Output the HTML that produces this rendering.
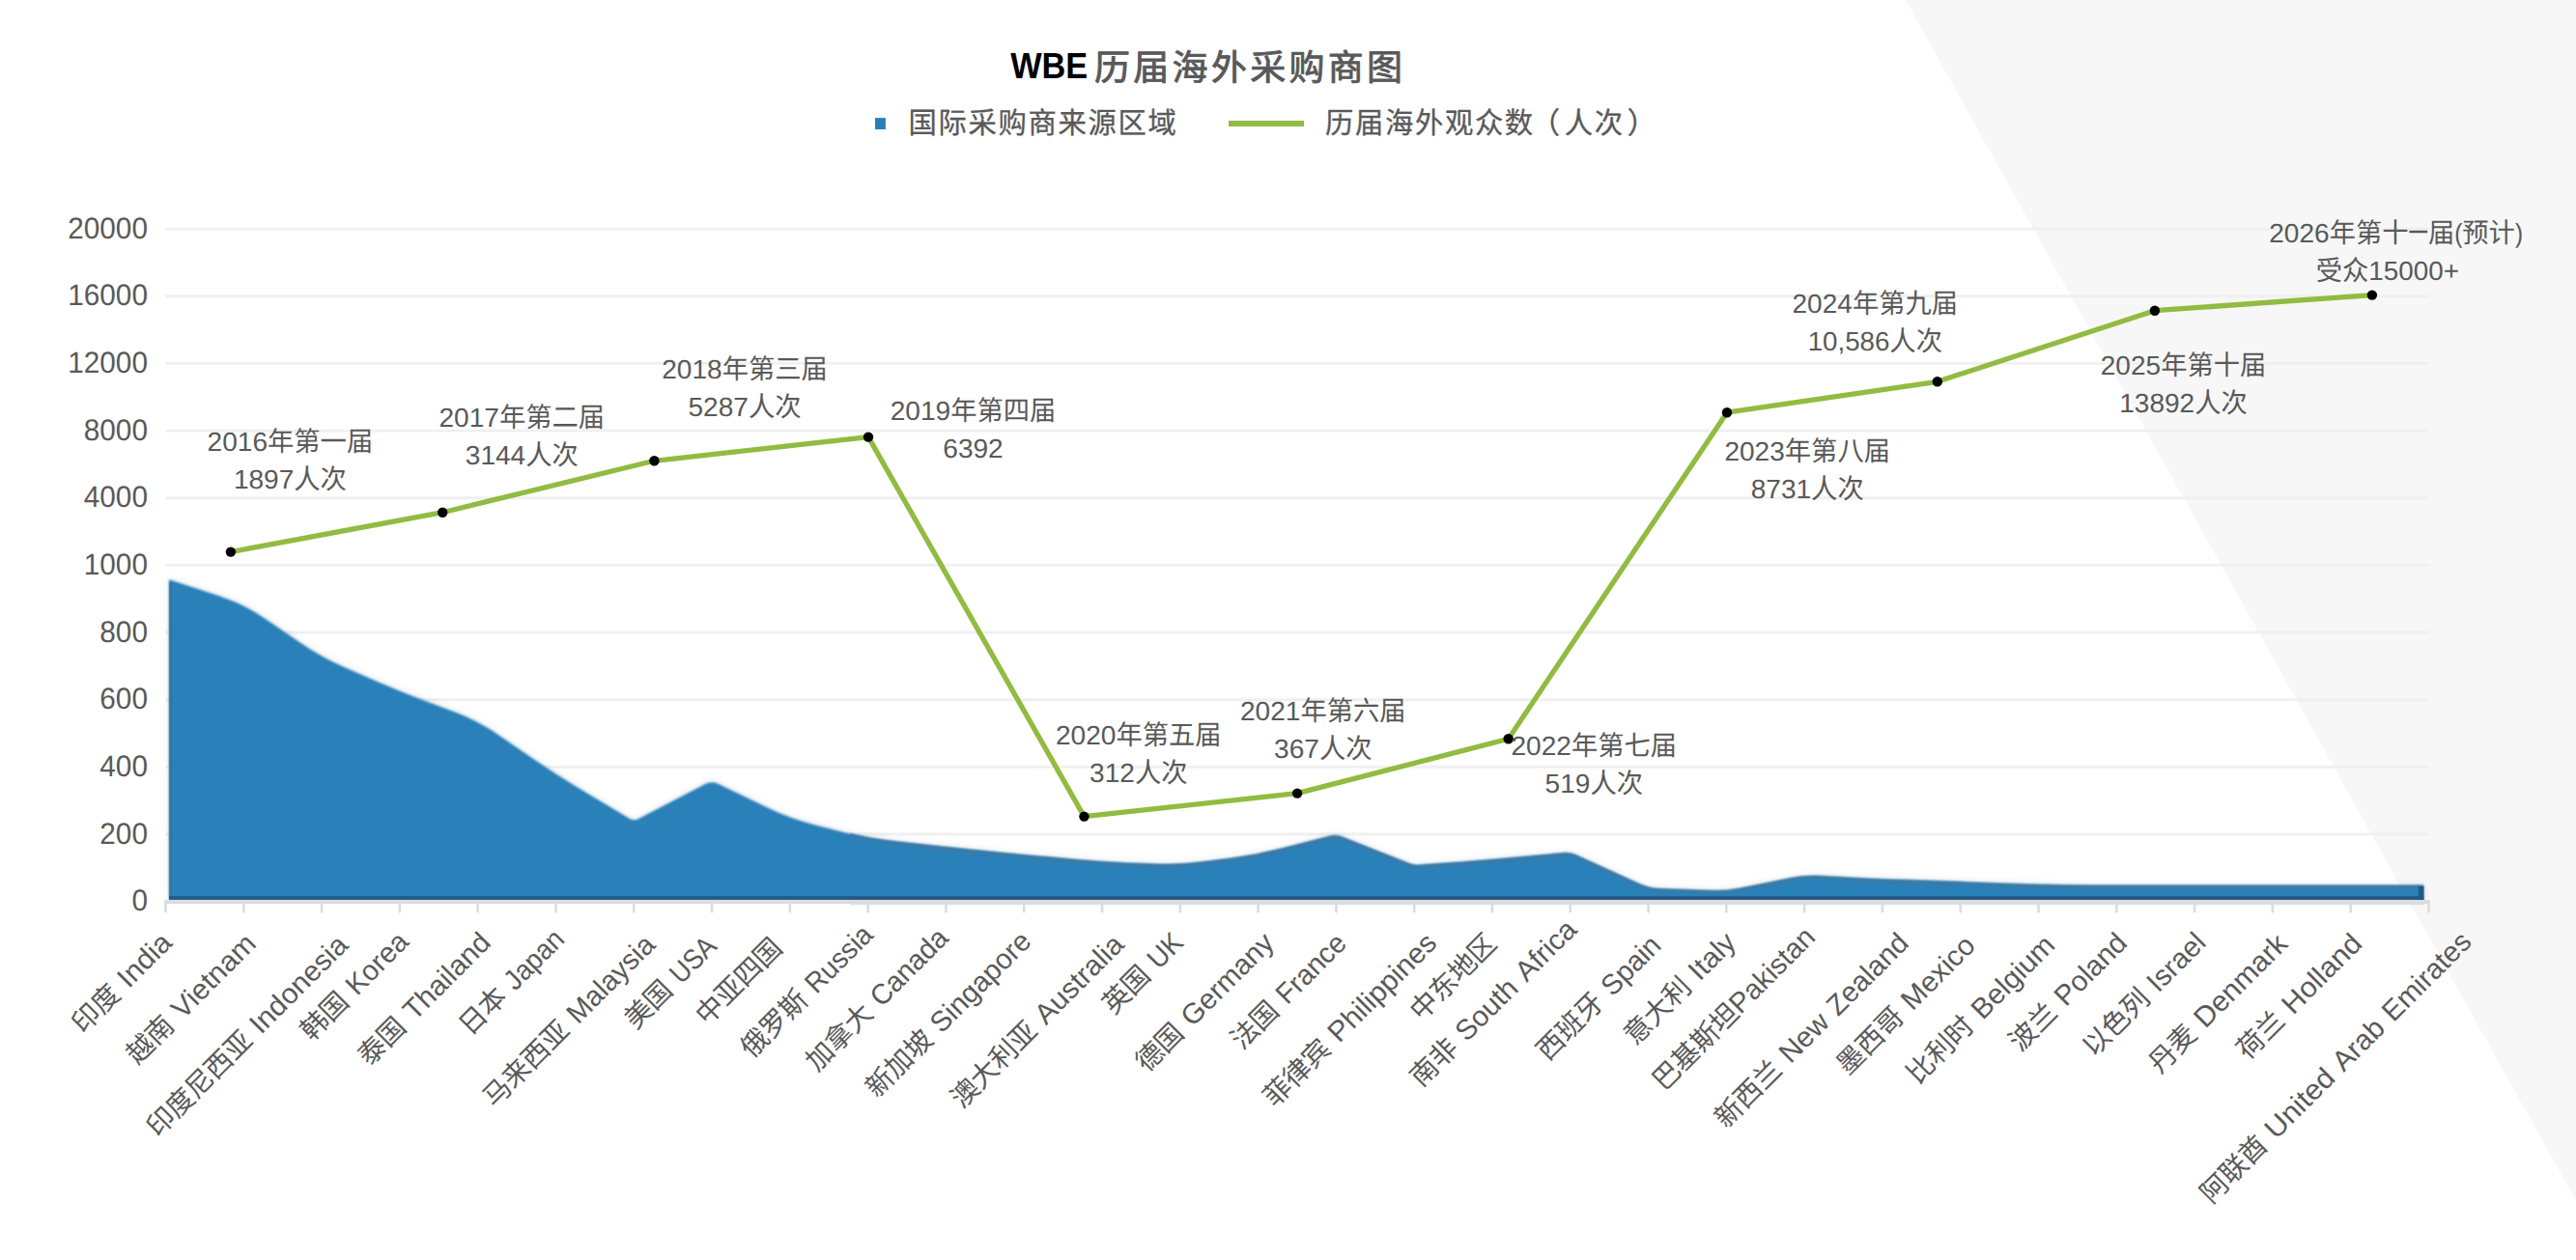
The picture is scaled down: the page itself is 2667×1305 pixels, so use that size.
<!DOCTYPE html>
<html lang="zh"><head><meta charset="utf-8"><title>WBE 历届海外采购商图</title><style>html,body{margin:0;padding:0;background:#fff}body{width:2667px;height:1305px;overflow:hidden}svg{display:block}</style></head><body>
<svg width="2667" height="1305" viewBox="0 0 2667 1305" font-family='"Liberation Sans","Noto Sans CJK SC",sans-serif' text-rendering="geometricPrecision"><defs><filter id="soft" x="-1%" y="-5%" width="102%" height="110%"><feGaussianBlur stdDeviation="0.8"/></filter><filter id="halo" x="-2%" y="-10%" width="104%" height="120%"><feGaussianBlur stdDeviation="3"/></filter></defs><rect width="2667" height="1305" fill="#fff"/>
<polygon points="1972.9,0 2667,0 2667,1243.5" fill="#f7f7f7"/>
<text transform="translate(1046.20,81.10)" font-size="36.40" fill="#000" font-weight="bold"><tspan x="0.00" y="0" font-size="37.77" textLength="80.03" lengthAdjust="spacingAndGlyphs">WBE</tspan></text>
<text transform="translate(1133.00,83.30)" font-size="37.00" fill="#595959" stroke="#595959" stroke-width="0.90" stroke-linejoin="round"><tspan x="0.00" y="0.00" letter-spacing="3.30">历届海外采购商图</tspan></text>
<rect x="906" y="122.1" width="10.9" height="11.9" fill="#2980b9"/>
<text transform="translate(940.60,137.70) scale(1,1.0400)" font-size="29.33" fill="#595959" stroke="#595959" stroke-width="0.30" stroke-linejoin="round"><tspan x="0.00" y="0.00" letter-spacing="1.65">国际采购商来源区域</tspan></text>
<line x1="1272" y1="128" x2="1350" y2="128" stroke="#92bb41" stroke-width="6"/>
<text transform="translate(1372.00,137.70) scale(1,1.0400)" font-size="29.33" fill="#595959" stroke="#595959" stroke-width="0.30" stroke-linejoin="round"><tspan x="0.00" y="0.00" letter-spacing="1.65">历届海外观众数</tspan><tspan x="212.36" y="0.00" textLength="30.98" lengthAdjust="spacingAndGlyphs">（</tspan><tspan x="247.84" y="0.00" letter-spacing="1.65">人次</tspan><tspan x="312.50" y="0.00" textLength="30.98" lengthAdjust="spacingAndGlyphs">）</tspan></text>
<line x1="171.5" y1="237.10" x2="2514.5" y2="237.10" stroke="#f0f0f0" stroke-width="2.9"/>
<line x1="171.5" y1="306.76" x2="2514.5" y2="306.76" stroke="#f0f0f0" stroke-width="2.9"/>
<line x1="171.5" y1="376.42" x2="2514.5" y2="376.42" stroke="#f0f0f0" stroke-width="2.9"/>
<line x1="171.5" y1="446.08" x2="2514.5" y2="446.08" stroke="#f0f0f0" stroke-width="2.9"/>
<line x1="171.5" y1="515.74" x2="2514.5" y2="515.74" stroke="#f0f0f0" stroke-width="2.9"/>
<line x1="171.5" y1="585.40" x2="2514.5" y2="585.40" stroke="#f0f0f0" stroke-width="2.9"/>
<line x1="171.5" y1="655.06" x2="2514.5" y2="655.06" stroke="#f0f0f0" stroke-width="2.9"/>
<line x1="171.5" y1="724.72" x2="2514.5" y2="724.72" stroke="#f0f0f0" stroke-width="2.9"/>
<line x1="171.5" y1="794.38" x2="2514.5" y2="794.38" stroke="#f0f0f0" stroke-width="2.9"/>
<line x1="171.5" y1="864.04" x2="2514.5" y2="864.04" stroke="#f0f0f0" stroke-width="2.9"/>
<text transform="translate(152.90,246.80)" font-size="28.90" fill="#595959"><tspan x="-82.62" y="0" font-size="31.07" textLength="82.62" lengthAdjust="spacingAndGlyphs">20000</tspan></text>
<text transform="translate(152.90,316.46)" font-size="28.90" fill="#595959"><tspan x="-82.62" y="0" font-size="31.07" textLength="82.62" lengthAdjust="spacingAndGlyphs">16000</tspan></text>
<text transform="translate(152.90,386.12)" font-size="28.90" fill="#595959"><tspan x="-82.62" y="0" font-size="31.07" textLength="82.62" lengthAdjust="spacingAndGlyphs">12000</tspan></text>
<text transform="translate(152.90,455.78)" font-size="28.90" fill="#595959"><tspan x="-66.10" y="0" font-size="31.07" textLength="66.10" lengthAdjust="spacingAndGlyphs">8000</tspan></text>
<text transform="translate(152.90,525.44)" font-size="28.90" fill="#595959"><tspan x="-66.10" y="0" font-size="31.07" textLength="66.10" lengthAdjust="spacingAndGlyphs">4000</tspan></text>
<text transform="translate(152.90,595.10)" font-size="28.90" fill="#595959"><tspan x="-66.10" y="0" font-size="31.07" textLength="66.10" lengthAdjust="spacingAndGlyphs">1000</tspan></text>
<text transform="translate(152.90,664.76)" font-size="28.90" fill="#595959"><tspan x="-49.57" y="0" font-size="31.07" textLength="49.57" lengthAdjust="spacingAndGlyphs">800</tspan></text>
<text transform="translate(152.90,734.42)" font-size="28.90" fill="#595959"><tspan x="-49.57" y="0" font-size="31.07" textLength="49.57" lengthAdjust="spacingAndGlyphs">600</tspan></text>
<text transform="translate(152.90,804.08)" font-size="28.90" fill="#595959"><tspan x="-49.57" y="0" font-size="31.07" textLength="49.57" lengthAdjust="spacingAndGlyphs">400</tspan></text>
<text transform="translate(152.90,873.74)" font-size="28.90" fill="#595959"><tspan x="-49.57" y="0" font-size="31.07" textLength="49.57" lengthAdjust="spacingAndGlyphs">200</tspan></text>
<text transform="translate(152.90,943.40)" font-size="28.90" fill="#595959"><tspan x="-16.52" y="0" font-size="31.07" textLength="16.52" lengthAdjust="spacingAndGlyphs">0</tspan></text>
<clipPath id="chalo"><rect x="150" y="560" width="2400" height="371.5"/></clipPath>
<g clip-path="url(#chalo)"><path d="M175.0,931.9 L175.0,600.3 L227.6,617.4 Q252.3,625.5 273.7,640.2 L311.7,666.3 Q333.1,681.0 356.9,691.3 L390.0,705.7 Q413.9,716.0 438.2,725.2 L470.3,737.3 Q494.7,746.5 516.1,761.2 L554.0,787.3 Q575.5,802.0 597.8,815.4 L652.0,847.9 Q656.3,850.5 660.7,848.2 L730.8,811.8 Q737.1,808.6 743.3,811.7 L794.5,836.5 Q817.8,847.8 843.0,854.2 L873.4,861.9 Q898.6,868.3 924.5,871.2 L953.6,874.5 Q979.4,877.4 1005.3,880.0 L1034.4,882.9 Q1060.2,885.5 1086.1,887.8 L1115.1,890.5 Q1141.0,892.8 1167.0,893.9 L1195.8,895.0 Q1221.8,896.1 1247.6,892.6 L1276.8,888.7 Q1302.6,885.2 1327.8,878.7 L1375.6,866.4 Q1383.4,864.4 1390.8,867.4 L1459.5,894.7 Q1464.2,896.5 1469.2,896.1 L1519.1,892.4 Q1545.0,890.4 1570.9,888.0 L1619.8,883.5 Q1625.8,883.0 1631.2,885.5 L1697.5,915.8 Q1706.6,920.0 1716.6,920.4 L1773.4,922.5 Q1787.4,923.0 1801.1,920.2 L1854.4,909.4 Q1868.2,906.6 1882.1,907.3 L1923.0,909.5 Q1948.9,910.8 1974.9,911.6 L2003.8,912.6 Q2029.7,913.4 2055.7,914.4 L2084.6,915.6 Q2110.5,916.6 2136.5,916.7 L2165.3,916.9 Q2191.3,917.0 2217.3,917.0 L2246.1,917.0 Q2272.1,917.0 2298.1,917.0 L2326.9,917.0 Q2352.9,917.0 2378.9,917.0 L2407.7,917.0 Q2433.7,917.0 2459.7,917.0 L2509.3,917.0 L2509.3,931.9 Z" fill="#6f8299" opacity="0.2" filter="url(#halo)" transform="translate(0,-1.5)"/></g>
<path d="M175.0,931.9 L175.0,600.3 L227.6,617.4 Q252.3,625.5 273.7,640.2 L311.7,666.3 Q333.1,681.0 356.9,691.3 L390.0,705.7 Q413.9,716.0 438.2,725.2 L470.3,737.3 Q494.7,746.5 516.1,761.2 L554.0,787.3 Q575.5,802.0 597.8,815.4 L652.0,847.9 Q656.3,850.5 660.7,848.2 L730.8,811.8 Q737.1,808.6 743.3,811.7 L794.5,836.5 Q817.8,847.8 843.0,854.2 L873.4,861.9 Q898.6,868.3 924.5,871.2 L953.6,874.5 Q979.4,877.4 1005.3,880.0 L1034.4,882.9 Q1060.2,885.5 1086.1,887.8 L1115.1,890.5 Q1141.0,892.8 1167.0,893.9 L1195.8,895.0 Q1221.8,896.1 1247.6,892.6 L1276.8,888.7 Q1302.6,885.2 1327.8,878.7 L1375.6,866.4 Q1383.4,864.4 1390.8,867.4 L1459.5,894.7 Q1464.2,896.5 1469.2,896.1 L1519.1,892.4 Q1545.0,890.4 1570.9,888.0 L1619.8,883.5 Q1625.8,883.0 1631.2,885.5 L1697.5,915.8 Q1706.6,920.0 1716.6,920.4 L1773.4,922.5 Q1787.4,923.0 1801.1,920.2 L1854.4,909.4 Q1868.2,906.6 1882.1,907.3 L1923.0,909.5 Q1948.9,910.8 1974.9,911.6 L2003.8,912.6 Q2029.7,913.4 2055.7,914.4 L2084.6,915.6 Q2110.5,916.6 2136.5,916.7 L2165.3,916.9 Q2191.3,917.0 2217.3,917.0 L2246.1,917.0 Q2272.1,917.0 2298.1,917.0 L2326.9,917.0 Q2352.9,917.0 2378.9,917.0 L2407.7,917.0 Q2433.7,917.0 2459.7,917.0 L2509.3,917.0 L2509.3,931.9 Z" fill="#2a80b9" filter="url(#soft)"/>
<clipPath id="cflat"><rect x="880" y="800" width="1629.3" height="140"/></clipPath>
<g clip-path="url(#cflat)" filter="url(#soft)"><path d="M175.0,931.9 L175.0,600.3 L227.6,617.4 Q252.3,625.5 273.7,640.2 L311.7,666.3 Q333.1,681.0 356.9,691.3 L390.0,705.7 Q413.9,716.0 438.2,725.2 L470.3,737.3 Q494.7,746.5 516.1,761.2 L554.0,787.3 Q575.5,802.0 597.8,815.4 L652.0,847.9 Q656.3,850.5 660.7,848.2 L730.8,811.8 Q737.1,808.6 743.3,811.7 L794.5,836.5 Q817.8,847.8 843.0,854.2 L873.4,861.9 Q898.6,868.3 924.5,871.2 L953.6,874.5 Q979.4,877.4 1005.3,880.0 L1034.4,882.9 Q1060.2,885.5 1086.1,887.8 L1115.1,890.5 Q1141.0,892.8 1167.0,893.9 L1195.8,895.0 Q1221.8,896.1 1247.6,892.6 L1276.8,888.7 Q1302.6,885.2 1327.8,878.7 L1375.6,866.4 Q1383.4,864.4 1390.8,867.4 L1459.5,894.7 Q1464.2,896.5 1469.2,896.1 L1519.1,892.4 Q1545.0,890.4 1570.9,888.0 L1619.8,883.5 Q1625.8,883.0 1631.2,885.5 L1697.5,915.8 Q1706.6,920.0 1716.6,920.4 L1773.4,922.5 Q1787.4,923.0 1801.1,920.2 L1854.4,909.4 Q1868.2,906.6 1882.1,907.3 L1923.0,909.5 Q1948.9,910.8 1974.9,911.6 L2003.8,912.6 Q2029.7,913.4 2055.7,914.4 L2084.6,915.6 Q2110.5,916.6 2136.5,916.7 L2165.3,916.9 Q2191.3,917.0 2217.3,917.0 L2246.1,917.0 Q2272.1,917.0 2298.1,917.0 L2326.9,917.0 Q2352.9,917.0 2378.9,917.0 L2407.7,917.0 Q2433.7,917.0 2459.7,917.0 L2509.3,917.0 L2509.3,931.9 Z" fill="#3b79a5"/><path d="M175.0,931.9 L175.0,600.3 L227.6,617.4 Q252.3,625.5 273.7,640.2 L311.7,666.3 Q333.1,681.0 356.9,691.3 L390.0,705.7 Q413.9,716.0 438.2,725.2 L470.3,737.3 Q494.7,746.5 516.1,761.2 L554.0,787.3 Q575.5,802.0 597.8,815.4 L652.0,847.9 Q656.3,850.5 660.7,848.2 L730.8,811.8 Q737.1,808.6 743.3,811.7 L794.5,836.5 Q817.8,847.8 843.0,854.2 L873.4,861.9 Q898.6,868.3 924.5,871.2 L953.6,874.5 Q979.4,877.4 1005.3,880.0 L1034.4,882.9 Q1060.2,885.5 1086.1,887.8 L1115.1,890.5 Q1141.0,892.8 1167.0,893.9 L1195.8,895.0 Q1221.8,896.1 1247.6,892.6 L1276.8,888.7 Q1302.6,885.2 1327.8,878.7 L1375.6,866.4 Q1383.4,864.4 1390.8,867.4 L1459.5,894.7 Q1464.2,896.5 1469.2,896.1 L1519.1,892.4 Q1545.0,890.4 1570.9,888.0 L1619.8,883.5 Q1625.8,883.0 1631.2,885.5 L1697.5,915.8 Q1706.6,920.0 1716.6,920.4 L1773.4,922.5 Q1787.4,923.0 1801.1,920.2 L1854.4,909.4 Q1868.2,906.6 1882.1,907.3 L1923.0,909.5 Q1948.9,910.8 1974.9,911.6 L2003.8,912.6 Q2029.7,913.4 2055.7,914.4 L2084.6,915.6 Q2110.5,916.6 2136.5,916.7 L2165.3,916.9 Q2191.3,917.0 2217.3,917.0 L2246.1,917.0 Q2272.1,917.0 2298.1,917.0 L2326.9,917.0 Q2352.9,917.0 2378.9,917.0 L2407.7,917.0 Q2433.7,917.0 2459.7,917.0 L2509.3,917.0 L2509.3,931.9 Z" fill="#2a80b9" transform="translate(0,3.6)"/></g>
<rect x="175.0" y="603.3" width="3.4" height="328.6" fill="#37709f" opacity="0.75"/>
<rect x="175.0" y="928.1" width="2334.3" height="3.8" fill="#245a84"/>
<rect x="2503.8" y="918.0" width="5.5" height="13.9" fill="#1f5a85"/>
<line x1="170.2" y1="934" x2="2515.8" y2="934" stroke="#dcdcdc" stroke-width="3.9"/>
<line x1="171.50" y1="934" x2="171.50" y2="945.3" stroke="#dcdcdc" stroke-width="2.6"/>
<line x1="252.29" y1="934" x2="252.29" y2="945.3" stroke="#dcdcdc" stroke-width="2.6"/>
<line x1="333.09" y1="934" x2="333.09" y2="945.3" stroke="#dcdcdc" stroke-width="2.6"/>
<line x1="413.88" y1="934" x2="413.88" y2="945.3" stroke="#dcdcdc" stroke-width="2.6"/>
<line x1="494.67" y1="934" x2="494.67" y2="945.3" stroke="#dcdcdc" stroke-width="2.6"/>
<line x1="575.47" y1="934" x2="575.47" y2="945.3" stroke="#dcdcdc" stroke-width="2.6"/>
<line x1="656.26" y1="934" x2="656.26" y2="945.3" stroke="#dcdcdc" stroke-width="2.6"/>
<line x1="737.05" y1="934" x2="737.05" y2="945.3" stroke="#dcdcdc" stroke-width="2.6"/>
<line x1="817.84" y1="934" x2="817.84" y2="945.3" stroke="#dcdcdc" stroke-width="2.6"/>
<line x1="898.64" y1="934" x2="898.64" y2="945.3" stroke="#dcdcdc" stroke-width="2.6"/>
<line x1="979.43" y1="934" x2="979.43" y2="945.3" stroke="#dcdcdc" stroke-width="2.6"/>
<line x1="1060.22" y1="934" x2="1060.22" y2="945.3" stroke="#dcdcdc" stroke-width="2.6"/>
<line x1="1141.02" y1="934" x2="1141.02" y2="945.3" stroke="#dcdcdc" stroke-width="2.6"/>
<line x1="1221.81" y1="934" x2="1221.81" y2="945.3" stroke="#dcdcdc" stroke-width="2.6"/>
<line x1="1302.60" y1="934" x2="1302.60" y2="945.3" stroke="#dcdcdc" stroke-width="2.6"/>
<line x1="1383.40" y1="934" x2="1383.40" y2="945.3" stroke="#dcdcdc" stroke-width="2.6"/>
<line x1="1464.19" y1="934" x2="1464.19" y2="945.3" stroke="#dcdcdc" stroke-width="2.6"/>
<line x1="1544.98" y1="934" x2="1544.98" y2="945.3" stroke="#dcdcdc" stroke-width="2.6"/>
<line x1="1625.78" y1="934" x2="1625.78" y2="945.3" stroke="#dcdcdc" stroke-width="2.6"/>
<line x1="1706.57" y1="934" x2="1706.57" y2="945.3" stroke="#dcdcdc" stroke-width="2.6"/>
<line x1="1787.36" y1="934" x2="1787.36" y2="945.3" stroke="#dcdcdc" stroke-width="2.6"/>
<line x1="1868.16" y1="934" x2="1868.16" y2="945.3" stroke="#dcdcdc" stroke-width="2.6"/>
<line x1="1948.95" y1="934" x2="1948.95" y2="945.3" stroke="#dcdcdc" stroke-width="2.6"/>
<line x1="2029.74" y1="934" x2="2029.74" y2="945.3" stroke="#dcdcdc" stroke-width="2.6"/>
<line x1="2110.53" y1="934" x2="2110.53" y2="945.3" stroke="#dcdcdc" stroke-width="2.6"/>
<line x1="2191.33" y1="934" x2="2191.33" y2="945.3" stroke="#dcdcdc" stroke-width="2.6"/>
<line x1="2272.12" y1="934" x2="2272.12" y2="945.3" stroke="#dcdcdc" stroke-width="2.6"/>
<line x1="2352.91" y1="934" x2="2352.91" y2="945.3" stroke="#dcdcdc" stroke-width="2.6"/>
<line x1="2433.71" y1="934" x2="2433.71" y2="945.3" stroke="#dcdcdc" stroke-width="2.6"/>
<line x1="2514.50" y1="934" x2="2514.50" y2="945.3" stroke="#dcdcdc" stroke-width="2.6"/>
<polyline points="238.9,571.6 458.2,530.7 677.4,477.3 899.0,452.6 1122.4,845.6 1343.1,821.6 1561.7,765.2 1788.0,427.2 2005.8,395.3 2230.9,321.7 2455.9,305.6" fill="none" stroke="#92bb41" stroke-width="5.3" stroke-linejoin="round" stroke-linecap="round"/>
<circle cx="238.9" cy="571.6" r="5.2" fill="#000"/>
<circle cx="458.2" cy="530.7" r="5.2" fill="#000"/>
<circle cx="677.4" cy="477.3" r="5.2" fill="#000"/>
<circle cx="899.0" cy="452.6" r="5.2" fill="#000"/>
<circle cx="1122.4" cy="845.6" r="5.2" fill="#000"/>
<circle cx="1343.1" cy="821.6" r="5.2" fill="#000"/>
<circle cx="1561.7" cy="765.2" r="5.2" fill="#000"/>
<circle cx="1788.0" cy="427.2" r="5.2" fill="#000"/>
<circle cx="2005.8" cy="395.3" r="5.2" fill="#000"/>
<circle cx="2230.9" cy="321.7" r="5.2" fill="#000"/>
<circle cx="2455.9" cy="305.6" r="5.2" fill="#000"/>
<text transform="translate(300.40,467.00) scale(1,1.0350)" font-size="27.30" fill="#595959"><tspan x="-85.82" y="0" font-size="26.73" textLength="62.44" lengthAdjust="spacingAndGlyphs">2016</tspan><tspan x="-23.38" y="0.00">年第一届</tspan></text>
<text transform="translate(300.40,506.00) scale(1,1.0350)" font-size="27.30" fill="#595959"><tspan x="-58.52" y="0" font-size="26.73" textLength="62.44" lengthAdjust="spacingAndGlyphs">1897</tspan><tspan x="3.92" y="0.00">人次</tspan></text>
<text transform="translate(540.30,442.10) scale(1,1.0350)" font-size="27.30" fill="#595959"><tspan x="-85.82" y="0" font-size="26.73" textLength="62.44" lengthAdjust="spacingAndGlyphs">2017</tspan><tspan x="-23.38" y="0.00">年第二届</tspan></text>
<text transform="translate(540.30,481.10) scale(1,1.0350)" font-size="27.30" fill="#595959"><tspan x="-58.52" y="0" font-size="26.73" textLength="62.44" lengthAdjust="spacingAndGlyphs">3144</tspan><tspan x="3.92" y="0.00">人次</tspan></text>
<text transform="translate(771.00,392.30) scale(1,1.0350)" font-size="27.30" fill="#595959"><tspan x="-85.82" y="0" font-size="26.73" textLength="62.44" lengthAdjust="spacingAndGlyphs">2018</tspan><tspan x="-23.38" y="0.00">年第三届</tspan></text>
<text transform="translate(771.00,431.30) scale(1,1.0350)" font-size="27.30" fill="#595959"><tspan x="-58.52" y="0" font-size="26.73" textLength="62.44" lengthAdjust="spacingAndGlyphs">5287</tspan><tspan x="3.92" y="0.00">人次</tspan></text>
<text transform="translate(1007.50,435.30) scale(1,1.0350)" font-size="27.30" fill="#595959"><tspan x="-85.82" y="0" font-size="26.73" textLength="62.44" lengthAdjust="spacingAndGlyphs">2019</tspan><tspan x="-23.38" y="0.00">年第四届</tspan></text>
<text transform="translate(1007.50,474.30) scale(1,1.0350)" font-size="27.30" fill="#595959"><tspan x="-31.22" y="0" font-size="26.73" textLength="62.44" lengthAdjust="spacingAndGlyphs">6392</tspan></text>
<text transform="translate(1178.80,770.60) scale(1,1.0350)" font-size="27.30" fill="#595959"><tspan x="-85.82" y="0" font-size="26.73" textLength="62.44" lengthAdjust="spacingAndGlyphs">2020</tspan><tspan x="-23.38" y="0.00">年第五届</tspan></text>
<text transform="translate(1178.80,809.60) scale(1,1.0350)" font-size="27.30" fill="#595959"><tspan x="-50.71" y="0" font-size="26.73" textLength="46.83" lengthAdjust="spacingAndGlyphs">312</tspan><tspan x="-3.89" y="0.00">人次</tspan></text>
<text transform="translate(1369.80,745.80) scale(1,1.0350)" font-size="27.30" fill="#595959"><tspan x="-85.82" y="0" font-size="26.73" textLength="62.44" lengthAdjust="spacingAndGlyphs">2021</tspan><tspan x="-23.38" y="0.00">年第六届</tspan></text>
<text transform="translate(1369.80,784.80) scale(1,1.0350)" font-size="27.30" fill="#595959"><tspan x="-50.71" y="0" font-size="26.73" textLength="46.83" lengthAdjust="spacingAndGlyphs">367</tspan><tspan x="-3.89" y="0.00">人次</tspan></text>
<text transform="translate(1650.30,782.00) scale(1,1.0350)" font-size="27.30" fill="#595959"><tspan x="-85.82" y="0" font-size="26.73" textLength="62.44" lengthAdjust="spacingAndGlyphs">2022</tspan><tspan x="-23.38" y="0.00">年第七届</tspan></text>
<text transform="translate(1650.30,821.00) scale(1,1.0350)" font-size="27.30" fill="#595959"><tspan x="-50.71" y="0" font-size="26.73" textLength="46.83" lengthAdjust="spacingAndGlyphs">519</tspan><tspan x="-3.89" y="0.00">人次</tspan></text>
<text transform="translate(1871.20,477.20) scale(1,1.0350)" font-size="27.30" fill="#595959"><tspan x="-85.82" y="0" font-size="26.73" textLength="62.44" lengthAdjust="spacingAndGlyphs">2023</tspan><tspan x="-23.38" y="0.00">年第八届</tspan></text>
<text transform="translate(1871.20,516.20) scale(1,1.0350)" font-size="27.30" fill="#595959"><tspan x="-58.52" y="0" font-size="26.73" textLength="62.44" lengthAdjust="spacingAndGlyphs">8731</tspan><tspan x="3.92" y="0.00">人次</tspan></text>
<text transform="translate(1941.30,323.90) scale(1,1.0350)" font-size="27.30" fill="#595959"><tspan x="-85.82" y="0" font-size="26.73" textLength="62.44" lengthAdjust="spacingAndGlyphs">2024</tspan><tspan x="-23.38" y="0.00">年第九届</tspan></text>
<text transform="translate(1941.30,362.90) scale(1,1.0350)" font-size="27.30" fill="#595959"><tspan x="-69.67" y="0" font-size="26.73" textLength="84.74" lengthAdjust="spacingAndGlyphs">10,586</tspan><tspan x="15.07" y="0.00">人次</tspan></text>
<text transform="translate(2260.50,388.10) scale(1,1.0350)" font-size="27.30" fill="#595959"><tspan x="-85.82" y="0" font-size="26.73" textLength="62.44" lengthAdjust="spacingAndGlyphs">2025</tspan><tspan x="-23.38" y="0.00">年第十届</tspan></text>
<text transform="translate(2260.50,427.10) scale(1,1.0350)" font-size="27.30" fill="#595959"><tspan x="-66.32" y="0" font-size="26.73" textLength="78.05" lengthAdjust="spacingAndGlyphs">13892</tspan><tspan x="11.72" y="0.00">人次</tspan></text>
<text transform="translate(2480.60,250.60) scale(1,1.0350)" font-size="27.30" fill="#595959"><tspan x="-131.37" y="0" font-size="26.73" textLength="62.44" lengthAdjust="spacingAndGlyphs">2026</tspan><tspan x="-68.93" y="0.00">年第十</tspan><tspan x="12.97" y="0.00" textLength="20.34" lengthAdjust="spacingAndGlyphs">一</tspan><tspan x="33.31" y="0.00">届</tspan><tspan x="60.61" y="0" font-size="26.73" textLength="8.08" lengthAdjust="spacingAndGlyphs">(</tspan><tspan x="68.69" y="0.00">预计</tspan><tspan x="123.29" y="0" font-size="26.73" textLength="8.08" lengthAdjust="spacingAndGlyphs">)</tspan></text>
<text transform="translate(2471.80,289.60) scale(1,1.0350)" font-size="27.30" fill="#595959"><tspan x="-74.13" y="0.00">受众</tspan><tspan x="-19.53" y="0" font-size="26.73" textLength="93.66" lengthAdjust="spacingAndGlyphs">15000+</tspan></text>
<text transform="translate(179.70,978.00) rotate(-45.00)" font-size="28.40" fill="#595959"><tspan x="-132.11" y="0.00" letter-spacing="-0.30">印度</tspan> <tspan x="-65.73" y="0" font-size="29.47" textLength="65.73" lengthAdjust="spacingAndGlyphs">India</tspan></text>
<text transform="translate(266.70,979.10) rotate(-45.00)" font-size="28.40" fill="#595959"><tspan x="-176.07" y="0.00" letter-spacing="-0.30">越南</tspan> <tspan x="-109.69" y="0" font-size="29.47" textLength="109.69" lengthAdjust="spacingAndGlyphs">Vietnam</tspan></text>
<text transform="translate(362.00,980.50) rotate(-45.00)" font-size="28.40" fill="#595959"><tspan x="-280.47" y="0.00" letter-spacing="-0.30">印度尼西亚</tspan> <tspan x="-129.80" y="0" font-size="29.47" textLength="129.80" lengthAdjust="spacingAndGlyphs">Indonesia</tspan></text>
<text transform="translate(424.80,977.10) rotate(-45.00)" font-size="28.40" fill="#595959"><tspan x="-144.28" y="0.00" letter-spacing="-0.30">韩国</tspan> <tspan x="-77.91" y="0" font-size="29.47" textLength="77.91" lengthAdjust="spacingAndGlyphs">Korea</tspan></text>
<text transform="translate(509.70,977.80) rotate(-45.00)" font-size="28.40" fill="#595959"><tspan x="-180.31" y="0.00" letter-spacing="-0.30">泰国</tspan> <tspan x="-113.93" y="0" font-size="29.47" textLength="113.93" lengthAdjust="spacingAndGlyphs">Thailand</tspan></text>
<text transform="translate(585.90,974.60) rotate(-45.00)" font-size="28.40" fill="#595959"><tspan x="-140.39" y="0.00" letter-spacing="-0.30">日本</tspan> <tspan x="-74.01" y="0" font-size="29.47" textLength="74.01" lengthAdjust="spacingAndGlyphs">Japan</tspan></text>
<text transform="translate(679.90,980.20) rotate(-45.00)" font-size="28.40" fill="#595959"><tspan x="-237.83" y="0.00" letter-spacing="-0.30">马来西亚</tspan> <tspan x="-115.25" y="0" font-size="29.47" textLength="115.25" lengthAdjust="spacingAndGlyphs">Malaysia</tspan></text>
<text transform="translate(743.50,981.80) rotate(-45.00)" font-size="28.40" fill="#595959"><tspan x="-120.61" y="0.00" letter-spacing="-0.30">美国</tspan> <tspan x="-54.23" y="0" font-size="29.47" textLength="54.23" lengthAdjust="spacingAndGlyphs">USA</tspan></text>
<text transform="translate(811.40,983.50) rotate(-45.00)" font-size="28.40" fill="#595959"><tspan x="-112.40" y="0.00" letter-spacing="-0.30">中亚四国</tspan></text>
<text transform="translate(905.50,970.00) rotate(-45.00)" font-size="28.40" fill="#595959"><tspan x="-179.54" y="0.00" letter-spacing="-0.30">俄罗斯</tspan> <tspan x="-85.06" y="0" font-size="29.47" textLength="85.06" lengthAdjust="spacingAndGlyphs">Russia</tspan></text>
<text transform="translate(983.50,973.30) rotate(-45.00)" font-size="28.40" fill="#595959"><tspan x="-194.61" y="0.00" letter-spacing="-0.30">加拿大</tspan> <tspan x="-100.13" y="0" font-size="29.47" textLength="100.13" lengthAdjust="spacingAndGlyphs">Canada</tspan></text>
<text transform="translate(1069.20,976.80) rotate(-45.00)" font-size="28.40" fill="#595959"><tspan x="-228.12" y="0.00" letter-spacing="-0.30">新加坡</tspan> <tspan x="-133.64" y="0" font-size="29.47" textLength="133.64" lengthAdjust="spacingAndGlyphs">Singapore</tspan></text>
<text transform="translate(1165.30,980.00) rotate(-45.00)" font-size="28.40" fill="#595959"><tspan x="-239.10" y="0.00" letter-spacing="-0.30">澳大利亚</tspan> <tspan x="-116.53" y="0" font-size="29.47" textLength="116.53" lengthAdjust="spacingAndGlyphs">Australia</tspan></text>
<text transform="translate(1226.80,978.00) rotate(-45.00)" font-size="28.40" fill="#595959"><tspan x="-104.48" y="0.00" letter-spacing="-0.30">英国</tspan> <tspan x="-38.11" y="0" font-size="29.47" textLength="38.11" lengthAdjust="spacingAndGlyphs">UK</tspan></text>
<text transform="translate(1320.80,978.20) rotate(-45.00)" font-size="28.40" fill="#595959"><tspan x="-188.53" y="0.00" letter-spacing="-0.30">德国</tspan> <tspan x="-122.16" y="0" font-size="29.47" textLength="122.16" lengthAdjust="spacingAndGlyphs">Germany</tspan></text>
<text transform="translate(1395.70,978.70) rotate(-45.00)" font-size="28.40" fill="#595959"><tspan x="-155.31" y="0.00" letter-spacing="-0.30">法国</tspan> <tspan x="-88.93" y="0" font-size="29.47" textLength="88.93" lengthAdjust="spacingAndGlyphs">France</tspan></text>
<text transform="translate(1489.10,978.50) rotate(-45.00)" font-size="28.40" fill="#595959"><tspan x="-239.46" y="0.00" letter-spacing="-0.30">菲律宾</tspan> <tspan x="-144.98" y="0" font-size="29.47" textLength="144.98" lengthAdjust="spacingAndGlyphs">Philippines</tspan></text>
<text transform="translate(1551.00,979.10) rotate(-45.00)" font-size="28.40" fill="#595959"><tspan x="-112.40" y="0.00" letter-spacing="-0.30">中东地区</tspan></text>
<text transform="translate(1634.10,964.50) rotate(-45.00)" font-size="28.40" fill="#595959"><tspan x="-229.87" y="0.00" letter-spacing="-0.30">南非</tspan> <tspan x="-163.49" y="0" font-size="29.47" textLength="77.63" lengthAdjust="spacingAndGlyphs">South</tspan> <tspan x="-75.69" y="0" font-size="29.47" textLength="75.69" lengthAdjust="spacingAndGlyphs">Africa</tspan></text>
<text transform="translate(1721.30,981.00) rotate(-45.00)" font-size="28.40" fill="#595959"><tspan x="-167.88" y="0.00" letter-spacing="-0.30">西班牙</tspan> <tspan x="-73.40" y="0" font-size="29.47" textLength="73.40" lengthAdjust="spacingAndGlyphs">Spain</tspan></text>
<text transform="translate(1798.90,977.90) rotate(-45.00)" font-size="28.40" fill="#595959"><tspan x="-149.71" y="0.00" letter-spacing="-0.30">意大利</tspan> <tspan x="-55.23" y="0" font-size="29.47" textLength="55.23" lengthAdjust="spacingAndGlyphs">Italy</tspan></text>
<text transform="translate(1881.00,972.30) rotate(-45.00)" font-size="28.40" fill="#595959"><tspan x="-224.18" y="0.00" letter-spacing="-0.30">巴基斯坦</tspan><tspan x="-111.78" y="0" font-size="29.47" textLength="111.78" lengthAdjust="spacingAndGlyphs">Pakistan</tspan></text>
<text transform="translate(1977.70,978.60) rotate(-45.00)" font-size="28.40" fill="#595959"><tspan x="-269.84" y="0.00" letter-spacing="-0.30">新西兰</tspan> <tspan x="-175.36" y="0" font-size="29.47" textLength="59.43" lengthAdjust="spacingAndGlyphs">New</tspan> <tspan x="-105.75" y="0" font-size="29.47" textLength="105.75" lengthAdjust="spacingAndGlyphs">Zealand</tspan></text>
<text transform="translate(2046.80,981.10) rotate(-45.00)" font-size="28.40" fill="#595959"><tspan x="-188.79" y="0.00" letter-spacing="-0.30">墨西哥</tspan> <tspan x="-94.31" y="0" font-size="29.47" textLength="94.31" lengthAdjust="spacingAndGlyphs">Mexico</tspan></text>
<text transform="translate(2129.10,980.70) rotate(-45.00)" font-size="28.40" fill="#595959"><tspan x="-202.59" y="0.00" letter-spacing="-0.30">比利时</tspan> <tspan x="-108.11" y="0" font-size="29.47" textLength="108.11" lengthAdjust="spacingAndGlyphs">Belgium</tspan></text>
<text transform="translate(2203.90,978.30) rotate(-45.00)" font-size="28.40" fill="#595959"><tspan x="-158.44" y="0.00" letter-spacing="-0.30">波兰</tspan> <tspan x="-92.06" y="0" font-size="29.47" textLength="92.06" lengthAdjust="spacingAndGlyphs">Poland</tspan></text>
<text transform="translate(2285.40,978.00) rotate(-45.00)" font-size="28.40" fill="#595959"><tspan x="-166.45" y="0.00" letter-spacing="-0.30">以色列</tspan> <tspan x="-71.97" y="0" font-size="29.47" textLength="71.97" lengthAdjust="spacingAndGlyphs">Israel</tspan></text>
<text transform="translate(2370.00,979.20) rotate(-45.00)" font-size="28.40" fill="#595959"><tspan x="-189.16" y="0.00" letter-spacing="-0.30">丹麦</tspan> <tspan x="-122.78" y="0" font-size="29.47" textLength="122.78" lengthAdjust="spacingAndGlyphs">Denmark</tspan></text>
<text transform="translate(2447.20,979.00) rotate(-45.00)" font-size="28.40" fill="#595959"><tspan x="-169.48" y="0.00" letter-spacing="-0.30">荷兰</tspan> <tspan x="-103.10" y="0" font-size="29.47" textLength="103.10" lengthAdjust="spacingAndGlyphs">Holland</tspan></text>
<text transform="translate(2560.30,977.20) rotate(-45.00)" font-size="28.40" fill="#595959"><tspan x="-382.54" y="0.00" letter-spacing="-0.30">阿联酋</tspan> <tspan x="-288.06" y="0" font-size="29.47" textLength="88.65" lengthAdjust="spacingAndGlyphs">United</tspan> <tspan x="-189.23" y="0" font-size="29.47" textLength="62.76" lengthAdjust="spacingAndGlyphs">Arab</tspan> <tspan x="-116.29" y="0" font-size="29.47" textLength="116.29" lengthAdjust="spacingAndGlyphs">Emirates</tspan></text></svg>
</body></html>
